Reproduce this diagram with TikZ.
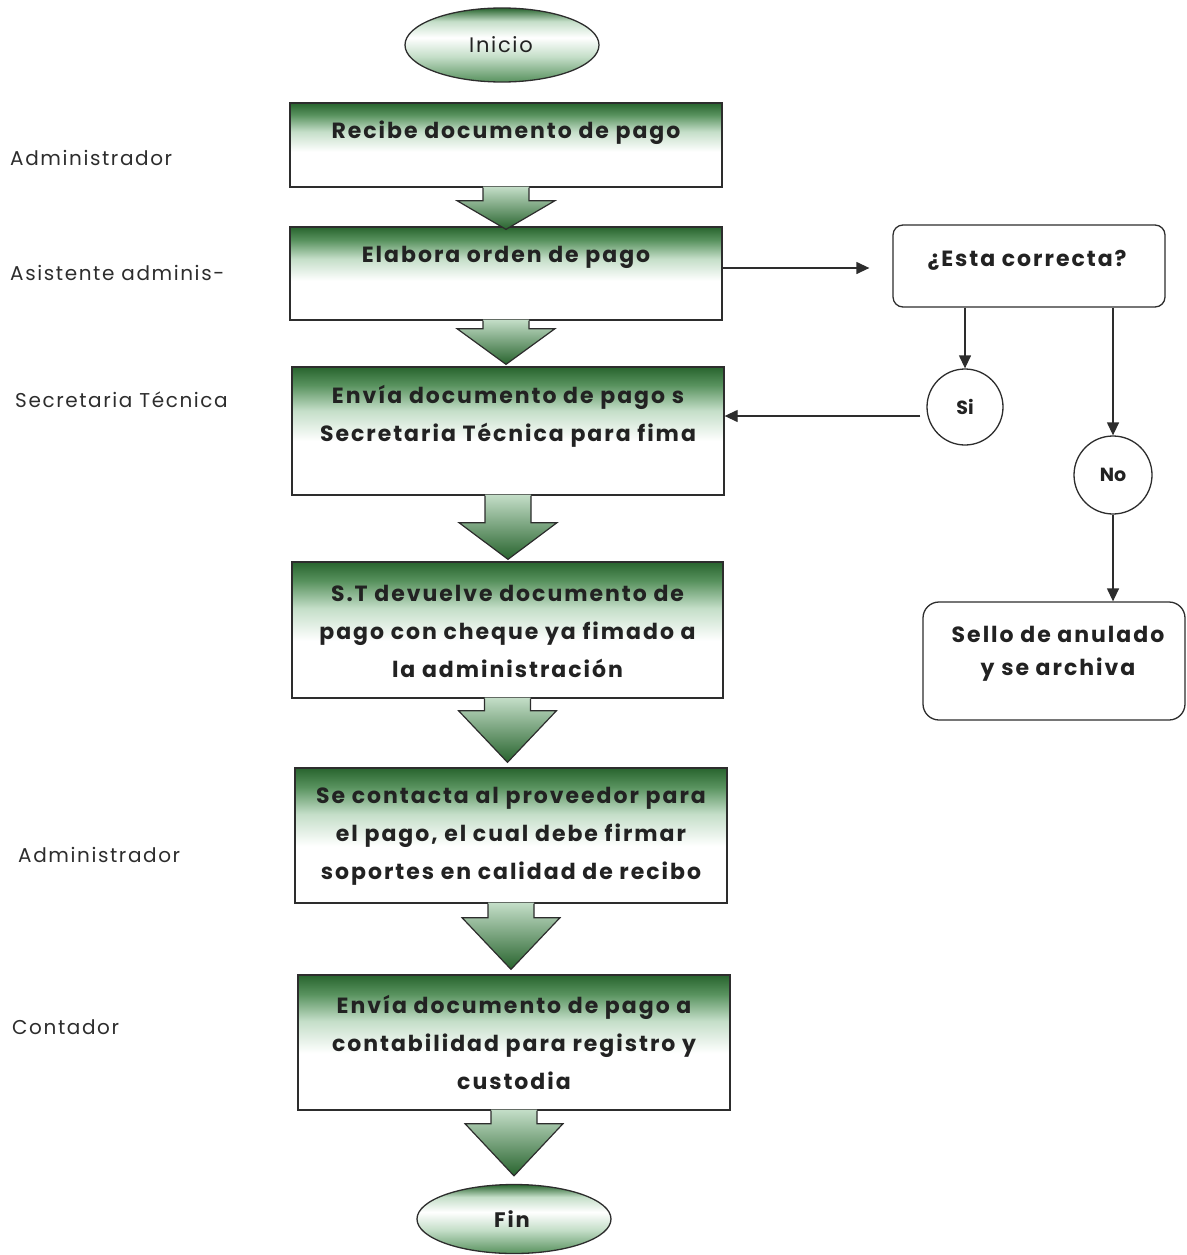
\documentclass[tikz,border=0pt]{standalone}
\usepackage{fontspec}
\setmainfont{Poppins}
\newfontfamily\stepfont[LetterSpace=9]{Poppins}
\newfontfamily\rolefont[LetterSpace=8]{Poppins}
\usetikzlibrary{arrows.meta,calc,shapes.geometric}

\definecolor{gdark}{RGB}{40,100,46}
\definecolor{gmid}{RGB}{88,146,94}
\definecolor{glight}{RGB}{196,222,200}
\definecolor{linegrey}{RGB}{45,45,45}
\definecolor{inkgrey}{RGB}{34,34,34}

% green band at the top of each step, fading to white below
\pgfdeclareverticalshading{boxfill}{100bp}{color(0bp)=(white); color(25bp)=(white); color(46bp)=(white); color(58bp)=(glight); color(68bp)=(gmid); color(75bp)=(gdark); color(100bp)=(gdark)}
% terminal ovals: dark top, pale middle, green bottom
\pgfdeclareverticalshading{ovalfill}{100bp}{color(0bp)=(gmid); color(25bp)=(gmid); color(42bp)=(glight); color(55bp)=(white); color(66bp)=(glight); color(75bp)=(gdark); color(100bp)=(gdark)}

\tikzset{
  stepbox/.style={draw=linegrey, line width=1.3pt, shade, shading=boxfill, inner sep=0pt},
  steptext/.style={font=\stepfont\fontsize{22}{38}\selectfont\bfseries, text=inkgrey, align=center, inner sep=0pt},
  oval/.style={ellipse, draw=linegrey, line width=1.3pt, shade, shading=ovalfill, inner sep=0pt},
  decbox/.style={draw=linegrey, line width=1.3pt, rounded corners=10pt, fill=white, inner sep=0pt},
  answer/.style={circle, draw=linegrey, line width=1.3pt, fill=white, inner sep=0pt, font=\fontsize{19}{22}\selectfont\bfseries, text=inkgrey},
  role/.style={anchor=west, font=\rolefont\fontsize{20}{24}\selectfont, text=linegrey, inner sep=0pt},
  conn/.style={draw=linegrey, line width=1.3pt, -{Triangle[length=13pt,width=12pt]}},
}

% block arrow between two steps: #1 from, #2 to, #3 shaft length, #4 gap above target
\newcommand\blockarrow[4]{%
  \shade[top color=glight, bottom color=gdark]
    let \p1=(#1.south), \p2=(#2.north) in
    (\x1-23pt,\y1+1pt) -- (\x1-23pt,\y1-#3pt) -- (\x1-49pt,\y1-#3pt) -- (\x1,\y2+#4pt)
    -- (\x1+49pt,\y1-#3pt) -- (\x1+23pt,\y1-#3pt) -- (\x1+23pt,\y1+1pt) -- cycle;
  \draw[linegrey, line width=1.2pt, line join=miter]
    let \p1=(#1.south), \p2=(#2.north) in
    (\x1-23pt,\y1) -- (\x1-23pt,\y1-#3pt) -- (\x1-49pt,\y1-#3pt) -- (\x1,\y2+#4pt)
    -- (\x1+49pt,\y1-#3pt) -- (\x1+23pt,\y1-#3pt) -- (\x1+23pt,\y1);
}

\begin{document}
\begin{tikzpicture}[x=1pt, y=-1pt]
\useasboundingbox (0,0) rectangle (1186,1255);

% terminals
\node[oval, minimum width=194pt, minimum height=74pt] (start) at (502,45) {};
\node[font=\rolefont\fontsize{21}{24}\selectfont, text=inkgrey] (starttext) at (501,45) {Inicio};
\node[oval, minimum width=194pt, minimum height=69pt] (finish) at (514,1219) {};
\node[font=\stepfont\fontsize{21}{24}\selectfont\bfseries, text=inkgrey] (finishtext) at (512,1219) {Fin};

% process steps
\node[stepbox, minimum width=432pt, minimum height=84pt]  (b1) at (506,145) {};
\node[stepbox, minimum width=432pt, minimum height=93pt]  (b2) at (506,273.5) {};
\node[stepbox, minimum width=432pt, minimum height=128pt] (b3) at (508,431) {};
\node[stepbox, minimum width=431pt, minimum height=136pt] (b4) at (507.5,630) {};
\node[stepbox, minimum width=432pt, minimum height=135pt] (b5) at (511,835.5) {};
\node[stepbox, minimum width=432pt, minimum height=135pt] (b6) at (514,1042.5) {};

\node[steptext] (t1) at (506,133) {Recibe documento de pago};
\node[steptext] (t2) at (506,257) {Elabora orden de pago};
\node[steptext] (t3) at (508,416) {Envía documento de pago s\\Secretaria Técnica para fima};
\node[steptext] (t4) at (507.5,631) {S.T devuelve documento de\\pago con cheque ya fimado a\\la administración};
\node[steptext] (t5) at (511,836.5) {Se contacta al proveedor para\\el pago, el cual debe firmar\\soportes en calidad de recibo};
\node[steptext] (t6) at (514,1042.5) {Envía documento de pago a\\contabilidad para registro y\\custodia};

% flow between steps
\blockarrow{b1}{b2}{13}{-3}
\blockarrow{b2}{b3}{8}{2}
\blockarrow{b3}{b4}{27}{2}
\blockarrow{b4}{b5}{12}{5}
\blockarrow{b5}{b6}{14}{5}
\blockarrow{b6}{finish}{13}{8}

% check branch
\node[decbox, minimum width=272pt, minimum height=82pt] (dec) at (1029,266) {};
\node[steptext] (dectext) at (1027,260) {¿Esta correcta?};
\node[answer, minimum size=76pt] (si) at (965,407) {Si};
\node[answer, minimum size=78pt] (no) at (1113,475) {No};
\node[decbox, rounded corners=16pt, minimum width=262pt, minimum height=118pt] (sello) at (1054,661) {};
\node[steptext, font=\stepfont\fontsize{22}{33}\selectfont\bfseries] (sellotext) at (1058,653.5) {Sello de anulado\\y se archiva};

\draw[conn, shorten >=23pt] (b2.east |- 0,268) -- (dec.west |- 0,268);
\draw[conn] (dec.south -| si) -- (si.north);
\draw[conn] (dec.south -| no) -- (no.north);
\draw[conn] (no.south) -- (sello.north -| no);
\draw[conn] ([xshift=-6pt,yshift=-9pt]si.west) -- ([yshift=-9pt]b3.east |- si.west);

% roles
\node[role] (r1) at (10,158) {Administrador};
\node[role] (r2) at (10,273) {Asistente adminis-};
\node[role] (r3) at (15,400) {Secretaria Técnica};
\node[role] (r4) at (18,855) {Administrador};
\node[role] (r5) at (12,1027) {Contador};
\end{tikzpicture}
\end{document}
